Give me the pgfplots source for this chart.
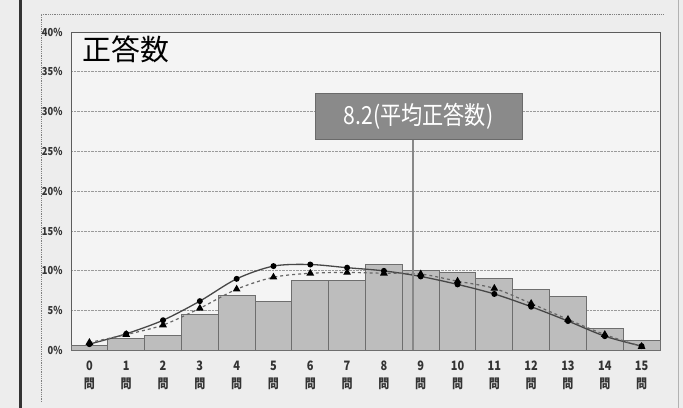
\documentclass[border=0pt]{standalone}
\usepackage{fontspec}
\usepackage{pgfplots}
\usepackage{pgfplotstable}
\pgfplotsset{compat=1.18}
\newfontfamily\jpn{Noto Sans CJK JP}
\newfontfamily\jpnarrow[FakeStretch=0.85]{Noto Sans CJK JP}
\definecolor{paper}{HTML}{EDEDED}
\definecolor{plotbg}{HTML}{F4F4F4}
\definecolor{barfill}{HTML}{BDBDBD}
\definecolor{baredge}{HTML}{6E6E6E}
\definecolor{frame}{HTML}{5C5C5C}
\definecolor{gridc}{HTML}{9A9A9A}
\definecolor{solidc}{HTML}{474747}
\definecolor{dashc}{HTML}{666666}
\definecolor{meanc}{HTML}{888888}
\definecolor{boxfill}{HTML}{8A8A8A}
\definecolor{boxedge}{HTML}{6A6A6A}

% share of students by number of correct answers (0-15 questions)
\pgfplotstableread{
n  share
0  0.6
1  1.5
2  1.9
3  4.5
4  6.9
5  6.2
6  8.8
7  8.8
8  10.8
9  10.1
10 9.8
11 9.0
12 7.7
13 6.8
14 2.8
15 1.2
}\shares

\begin{document}
\begin{tikzpicture}
\useasboundingbox (0,0) rectangle (683bp,408bp);
\fill[paper] (0,0) rectangle (683bp,408bp);
\draw[line width=3bp, black!80] (20bp,0) -- (20bp,408bp);
\draw[line width=0.6bp, gray!60] (678bp,0) -- (678bp,408bp);
\draw[densely dotted, gray, line width=0.8bp] (41bp,6bp) -- (41bp,394bp) -- (663bp,394bp);

\begin{axis}[
  at={(71bp,57.5bp)}, anchor=south west,
  scale only axis, width=589bp, height=318.5bp,
  xmin=-0.5, xmax=15.5, ymin=0, ymax=40,
  axis background/.style={fill=plotbg},
  axis line style={frame, line width=1bp},
  major tick length=0pt,
  ytick={0,5,...,40},
  yticklabels={0\%,5\%,10\%,15\%,20\%,25\%,30\%,35\%,40\%},
  yticklabel style={font=\jpnarrow\bfseries\fontsize{11}{12}\selectfont, xshift=-5bp, text=black!80},
  xtick={0,...,15},
  xticklabels={{0\\問},{1\\問},{2\\問},{3\\問},{4\\問},{5\\問},{6\\問},{7\\問},
               {8\\問},{9\\問},{10\\問},{11\\問},{12\\問},{13\\問},{14\\問},{15\\問}},
  xticklabel style={align=center, font=\jpnarrow\bfseries\fontsize{13}{18}\selectfont, yshift=-7bp, text=black!80},
  ymajorgrids,
  major grid style={densely dotted, gridc, line width=0.9bp},
  clip=false,
]
\addplot[ybar, bar width=1, fill=barfill, draw=baredge, line width=0.9bp]
  table[x=n, y=share] {\shares};

% fitted curve (solid, circles)
\addplot[smooth, color=solidc, line width=1.3bp,
  mark=*, mark size=2.3bp, mark options={fill=black, draw=black}]
  coordinates {(0,0.8) (1,2.1) (2,3.8) (3,6.2) (4,9.0) (5,10.6) (6,10.8) (7,10.4)
               (8,10.0) (9,9.3) (10,8.3) (11,7.1) (12,5.5) (13,3.7) (14,1.8) (15,0.55)};

% fitted curve (dashed, triangles)
\addplot[smooth, dashed, color=dashc, line width=1.2bp,
  mark=triangle*, mark size=3.3bp, mark options={solid, fill=black, draw=black}]
  coordinates {(0,1.0) (1,2.0) (2,3.2) (3,5.3) (4,7.7) (5,9.2) (6,9.7) (7,9.8)
               (8,9.7) (9,9.6) (10,8.7) (11,7.8) (12,5.9) (13,3.9) (14,2.0) (15,0.5)};

\node[anchor=north west, inner sep=0pt, font=\jpn\fontsize{29}{29}\selectfont]
  at (rel axis cs:0.0187,0.99) {正答数};
\end{axis}

% mean marker on the secondary scale
\begin{axis}[
  at={(71bp,57.5bp)}, anchor=south west,
  scale only axis, width=589bp, height=318.5bp,
  xmin=-0.5, xmax=14.5, ymin=0, ymax=40,
  hide axis, clip=false,
]
\addplot[color=meanc, line width=2bp] coordinates {(8.2,0) (8.2,26.6)};
\node[fill=boxfill, draw=boxedge, line width=0.8bp, minimum width=207bp, minimum height=46bp,
  text=white, font=\jpnarrow\fontsize{25}{25}\selectfont, inner sep=0pt]
  at (axis cs:8.35,29.45) {8.2(平均正答数)};
\end{axis}
\end{tikzpicture}
\end{document}
